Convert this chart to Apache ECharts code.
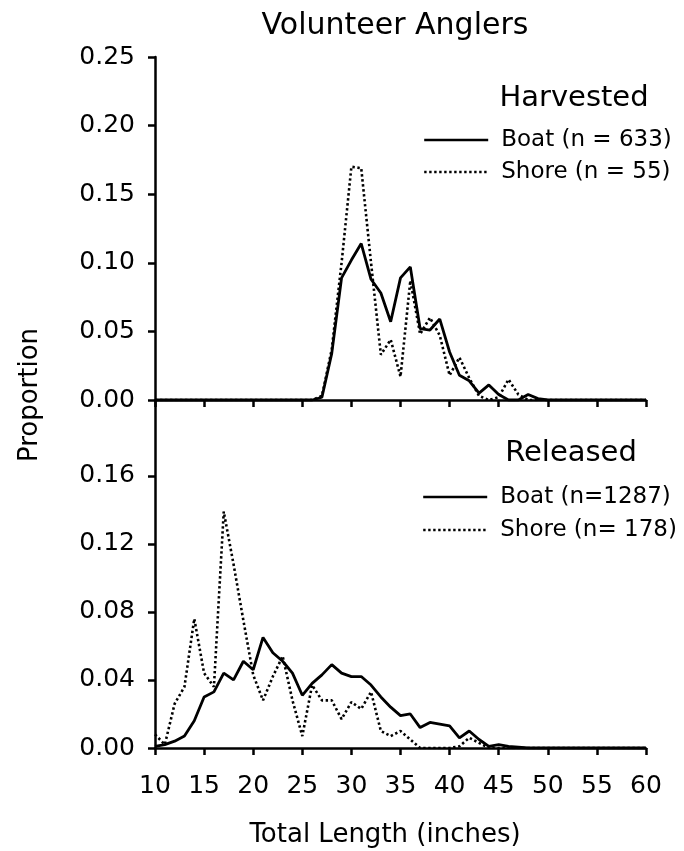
<!DOCTYPE html>
<html>
<head>
<meta charset="utf-8">
<title>Volunteer Anglers</title>
<script src="https://cdn.jsdelivr.net/npm/echarts@6/dist/echarts.min.js"></script>
<style>
  html, body { margin: 0; padding: 0; background: #fff; }
  #chart { width: 684px; height: 851px; }
</style>
</head>
<body>
<div id="chart"></div>
<script>
// Total length bins (inches)
const inches = [10, 11, 12, 13, 14, 15, 16, 17, 18, 19, 20, 21, 22, 23, 24, 25, 26, 27, 28, 29,
  30, 31, 32, 33, 34, 35, 36, 37, 38, 39, 40, 41, 42, 43, 44, 45, 46, 47, 48, 49,
  50, 51, 52, 53, 54, 55, 56, 57, 58, 59, 60];

// Harvested fish, proportion per inch class
const harvestedBoat = [0, 0, 0, 0, 0, 0, 0, 0, 0, 0, 0, 0, 0, 0, 0, 0, 0,
  0.002, 0.034, 0.089, 0.102, 0.114, 0.088, 0.078, 0.057, 0.089, 0.097, 0.052, 0.051,
  0.059, 0.035, 0.018, 0.014, 0.005, 0.011, 0.004, 0, 0, 0.004, 0.001,
  0, 0, 0, 0, 0, 0, 0, 0, 0, 0, 0];
const harvestedShore = [0, 0, 0, 0, 0, 0, 0, 0, 0, 0, 0, 0, 0, 0, 0, 0, 0,
  0.003, 0.037, 0.100, 0.170, 0.169, 0.100, 0.033, 0.044, 0.017, 0.087, 0.048, 0.060,
  0.047, 0.018, 0.031, 0.016, 0.003, 0, 0.002, 0.015, 0.004,
  0, 0, 0, 0, 0, 0, 0, 0, 0, 0, 0, 0, 0];

// Released fish, proportion per inch class
const releasedBoat = [0.001, 0.002, 0.004, 0.007, 0.016, 0.030, 0.033, 0.044, 0.040, 0.051,
  0.046, 0.065, 0.056, 0.051, 0.044, 0.031, 0.038, 0.043, 0.049, 0.044,
  0.042, 0.042, 0.037, 0.030, 0.024, 0.019, 0.020, 0.012, 0.015, 0.014,
  0.013, 0.006, 0.010, 0.005, 0.001, 0.002, 0.001, 0.0005,
  0, 0, 0, 0, 0, 0, 0, 0, 0, 0, 0, 0, 0];
const releasedShore = [0.008, 0.002, 0.026, 0.036, 0.076, 0.044, 0.036, 0.139, 0.108, 0.075,
  0.043, 0.028, 0.042, 0.054, 0.028, 0.007, 0.037, 0.028, 0.028, 0.017,
  0.027, 0.023, 0.033, 0.010, 0.007, 0.010, 0.005, 0, 0, 0, 0, 0.001, 0.006, 0.003,
  0, 0, 0, 0, 0, 0, 0, 0, 0, 0, 0, 0, 0, 0, 0, 0, 0];

// Tick values
const harvestedTicks = [0, 0.05, 0.10, 0.15, 0.20, 0.25];
const releasedTicks = [0, 0.04, 0.08, 0.12, 0.16];
const lengthTicks = [10, 15, 20, 25, 30, 35, 40, 45, 50, 55, 60];

const FONT = 'DejaVu Sans';
const INK = '#000';

const pairs = (vals) => inches.map((x, i) => [x, vals[i]]);

const axisLineStyle = { color: INK, width: 2.5 };

function xAxisFor(gridIndex, showLabels) {
  return {
    type: 'value', gridIndex: gridIndex, min: 10, max: 60, interval: 5,
    axisLine: { show: true, onZero: false, lineStyle: axisLineStyle },
    axisTick: { show: true, inside: false, length: 7, lineStyle: axisLineStyle, customValues: lengthTicks },
    axisLabel: { show: showLabels, fontFamily: FONT, fontSize: 25, color: INK, margin: 26, customValues: lengthTicks },
    splitLine: { show: false }
  };
}

function yAxisFor(gridIndex, max, interval, ticks) {
  return {
    type: 'value', gridIndex: gridIndex, min: 0, max: max, interval: interval,
    axisLine: { show: true, onZero: false, lineStyle: axisLineStyle },
    axisTick: { show: true, inside: false, length: 7, lineStyle: axisLineStyle, customValues: ticks },
    axisLabel: {
      fontFamily: FONT, fontSize: 25, color: INK, margin: 20, customValues: ticks,
      formatter: (v) => v.toFixed(2)
    },
    splitLine: { show: false }
  };
}

const solid = { color: INK, width: 2.8, type: 'solid' };
const dotted = { color: INK, width: 2.6, type: [2.4, 2.6], cap: 'butt' };

function lineSeries(name, data, gridIndex, style) {
  return {
    name: name, type: 'line', xAxisIndex: gridIndex, yAxisIndex: gridIndex,
    data: pairs(data), symbol: 'none', showSymbol: false, silent: true,
    lineStyle: style, itemStyle: { color: INK }, animation: false
  };
}

const legendText = { fontFamily: FONT, fontSize: 23, color: INK, lineHeight: 23, padding: [0, 0, 0, 8] };
// keys show only the line stroke, no marker
const legendMarker = { color: 'rgba(0,0,0,0)', borderColor: 'rgba(0,0,0,0)', borderWidth: 0, opacity: 0 };

const option = {
  backgroundColor: '#fff',
  animation: false,
  grid: [
    { left: 155, right: 38, top: 57, height: 343, containLabel: false },
    { left: 155, right: 38, top: 401, height: 347, containLabel: false }
  ],
  xAxis: [xAxisFor(0, false), xAxisFor(1, true)],
  yAxis: [
    yAxisFor(0, 0.25, 0.05, harvestedTicks),
    yAxisFor(1, 0.204, 0.04, releasedTicks)
  ],
  legend: [
    {
      data: ['Boat (n = 633)', 'Shore (n = 55)'],
      orient: 'vertical', left: 423, top: 128.5, padding: 0,
      itemWidth: 64, itemHeight: 12, itemGap: 9, selectedMode: false,
      itemStyle: legendMarker,
      lineStyle: { width: 2.4 },
      textStyle: legendText
    },
    {
      data: ['Boat (n=1287)', 'Shore (n= 178)'],
      orient: 'vertical', left: 422, top: 485.5, padding: 0,
      itemWidth: 64, itemHeight: 12, itemGap: 10, selectedMode: false,
      itemStyle: legendMarker,
      lineStyle: { width: 2.4 },
      textStyle: legendText
    }
  ],
  graphic: [
    { type: 'text', x: 395, y: 26, silent: true,
      style: { text: 'Volunteer Anglers', align: 'center', verticalAlign: 'middle',
               fontFamily: FONT, fontSize: 30, fill: INK } },
    { type: 'text', x: 574, y: 98, silent: true,
      style: { text: 'Harvested', align: 'center', verticalAlign: 'middle',
               fontFamily: FONT, fontSize: 29, fill: INK } },
    { type: 'text', x: 571, y: 453, silent: true,
      style: { text: 'Released', align: 'center', verticalAlign: 'middle',
               fontFamily: FONT, fontSize: 29, fill: INK } },
    { type: 'text', x: 385, y: 835, silent: true,
      style: { text: 'Total Length (inches)', align: 'center', verticalAlign: 'middle',
               fontFamily: FONT, fontSize: 26, fill: INK } },
    { type: 'text', x: 30, y: 395, rotation: Math.PI / 2, silent: true,
      style: { text: 'Proportion', align: 'center', verticalAlign: 'middle',
               fontFamily: FONT, fontSize: 26, fill: INK } }
  ],
  series: [
    lineSeries('Boat (n = 633)', harvestedBoat, 0, solid),
    lineSeries('Shore (n = 55)', harvestedShore, 0, dotted),
    lineSeries('Boat (n=1287)', releasedBoat, 1, solid),
    lineSeries('Shore (n= 178)', releasedShore, 1, dotted)
  ]
};

const chart = echarts.init(document.getElementById('chart'), null, { renderer: 'canvas' });
chart.setOption(option);
</script>
</body>
</html>
